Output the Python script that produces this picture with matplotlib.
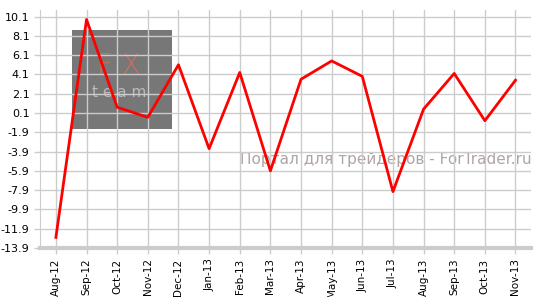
import matplotlib.pyplot as plt
from matplotlib.patches import Rectangle

months = ['Aug-12', 'Sep-12', 'Oct-12', 'Nov-12', 'Dec-12', 'Jan-13', 'Feb-13', 'Mar-13',
          'Apr-13', 'May-13', 'Jun-13', 'Jul-13', 'Aug-13', 'Sep-13', 'Oct-13', 'Nov-13']
values = [-12.8, 9.8, 0.7, -0.35, 5.1, -3.6, 4.3, -5.9,
          3.6, 5.5, 3.9, -8.05, 0.5, 4.2, -0.7, 3.5]
yticks = [10.1, 8.1, 6.1, 4.1, 2.1, 0.1, -1.9, -3.9, -5.9, -7.9, -9.9, -11.9, -13.9]

fig = plt.figure(figsize=(5.4, 2.97), dpi=100)
ax = fig.add_axes([0.074, 0.165, 0.909, 0.801])

x = list(range(len(months)))

# watermark logo box
ax.add_patch(Rectangle((0.52, -1.55), 3.26, 10.3, transform=ax.transData,
                       facecolor='#777777', edgecolor='none', zorder=0.5))
ax.text(2.05, 5.0, 'F X', color='#c8705e', fontsize=20, ha='center', va='center',
        fontweight='ultralight', zorder=0.6)
ax.text(2.05, 2.2, 't e a m', color='#bbbbbb', fontsize=11, ha='center', va='center',
        zorder=0.6)

ax.plot(x, values, color='#ff0000', lw=2, zorder=3)

ax.text(15.52, -4.7, 'Портал для трейдеров - ForTrader.ru', color='#b0a4a4',
        fontsize=11, ha='right', va='center', zorder=2)

ax.set_xlim(-0.52, 15.5)
ax.set_ylim(-13.9, 10.77)
ax.set_xticks(x)
ax.set_xticklabels(months, rotation=90, fontsize=7.5)
ax.set_yticks(yticks)
ax.set_yticklabels([str(v) for v in yticks], fontsize=8)

ax.grid(True, color='#cccccc', lw=1, zorder=1)
ax.set_axisbelow(False)
for s in ['top', 'right']:
    ax.spines[s].set_visible(False)
ax.spines['left'].set_color('#cccccc')
ax.spines['bottom'].set_color('#cccccc')
ax.spines['bottom'].set_linewidth(3)
ax.tick_params(axis='both', colors='#cccccc', labelcolor='black', length=4, width=1)

fig.savefig('out.png', dpi=100)
